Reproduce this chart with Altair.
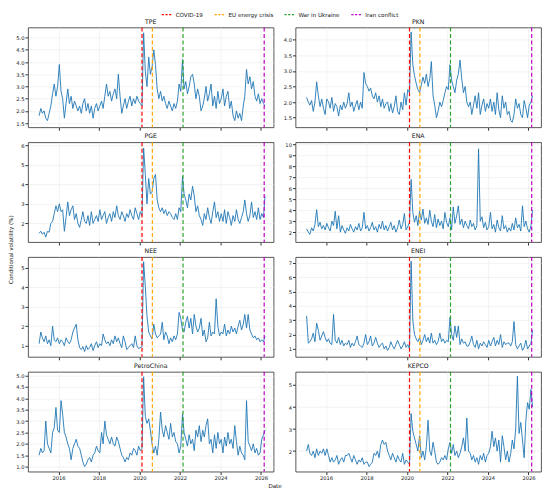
import altair as alt
import pandas as pd

# Monthly values (Jan 2015 .. Mar 2026)
TPE = [1.8, 2.1, 1.9, 2.0, 1.7, 1.6, 1.9, 2.2, 2.7, 3.1, 2.6, 3.0,
       3.9, 2.8, 2.5, 1.7, 2.3, 2.9, 2.3, 2.6, 2.1, 2.4, 2.2, 2.0,
       2.2, 1.9, 2.3, 2.5, 2.0, 2.3, 1.9, 2.2, 1.7, 2.1, 2.3, 2.0,
       2.2, 2.4, 2.1, 2.6, 3.1, 2.6, 2.8, 2.4, 2.7, 2.9, 2.5, 3.5,
       2.6, 1.9, 2.2, 2.5, 2.1, 2.4, 2.6, 2.2, 2.5, 2.3, 2.6, 2.4,
       2.3, 2.2, 5.2, 3.6, 3.0, 4.2, 3.5, 3.8, 4.5, 3.9, 2.9, 2.5,
       2.8, 2.4, 2.6, 2.3, 2.1, 2.4, 2.2, 2.0, 2.3, 2.1, 2.4, 3.1,
       2.8, 4.1, 2.9, 3.2, 2.7, 3.0, 3.4, 3.5, 3.1, 2.5, 2.9, 2.6,
       2.0, 2.2, 2.5, 3.0, 2.4, 2.7, 3.1, 2.2, 2.6, 2.1, 2.8, 2.3,
       2.5, 2.9, 2.2, 2.6, 2.8, 2.1, 2.4, 1.8, 1.6, 2.0, 1.7, 1.9,
       1.6, 2.2, 2.6, 3.7, 3.1, 3.4, 2.9, 3.2, 2.6, 2.4, 2.7, 2.3,
       2.5, 2.3, 2.2]
PKN = [2.15, 2.0, 1.9, 2.05, 1.7, 2.0, 2.65, 2.2, 1.85, 2.1, 1.8, 1.6,
       2.1, 2.0, 1.8, 2.15, 1.7, 1.95, 1.85, 1.55, 1.9, 1.75, 2.0, 1.8,
       1.95, 2.3, 1.85, 2.0, 1.7, 1.9, 2.05, 1.75, 2.0, 1.8, 2.95, 2.6,
       2.5, 2.35, 2.45, 2.2, 2.1, 2.3, 2.0, 2.2, 1.85, 2.1, 1.8, 1.95,
       2.0, 1.7, 1.95, 1.65, 1.85, 2.2, 1.7, 1.6, 2.0, 1.75, 2.3, 1.9,
       2.4, 2.3, 4.25, 3.2, 2.85, 2.6, 2.4, 2.3, 2.55, 2.8, 2.6, 2.9,
       2.5, 2.75, 3.3, 2.2, 1.9, 1.5, 1.7, 2.0, 1.85, 2.05, 2.3, 2.5,
       2.4, 3.2, 2.7, 2.5, 2.3, 2.7, 2.9, 3.35, 2.75, 2.3, 2.5, 2.0,
       1.85, 2.0, 1.6, 1.9, 2.2, 1.8, 2.3, 1.6, 1.9, 2.1, 1.7, 1.95,
       1.8, 2.1, 1.7, 2.0, 1.6, 2.3, 1.75, 1.5, 2.2, 1.8, 2.0, 1.6,
       1.7, 1.4, 1.35, 1.6, 2.1, 1.8, 1.95, 1.6, 1.5, 2.05, 1.8, 1.5,
       1.9, 2.0, 2.2]
PGE = [1.5, 1.6, 1.45, 1.55, 1.3, 1.6, 1.55, 2.0, 2.1, 2.5, 2.9, 2.6,
       3.0, 2.6, 2.7, 1.6, 2.3, 3.1, 2.4, 2.7, 2.9, 2.2, 2.5, 2.0,
       1.8, 2.2, 2.6, 2.1, 2.0, 2.4, 1.9, 2.6, 2.0, 2.2, 2.4, 2.1,
       2.7, 2.2, 2.4, 2.6, 2.0, 2.3, 2.5, 2.1, 2.6, 2.3, 2.9, 2.4,
       2.2, 2.6, 2.4, 2.1, 2.5, 2.3, 2.7, 2.4, 2.2, 2.8, 2.5, 2.2,
       2.6, 2.4, 5.85, 4.5, 3.0, 4.3, 3.5, 3.6, 4.3, 4.5, 3.2, 2.8,
       2.6, 2.8, 2.5, 2.7, 2.4, 2.6, 2.5, 2.3, 2.2, 2.5, 2.2, 2.8,
       2.6, 4.4, 3.5, 3.2, 2.8, 3.5, 3.2, 3.9, 3.4, 2.6, 2.9, 2.4,
       2.2, 1.9, 2.5, 2.2, 2.8, 2.3, 2.0, 2.6, 3.1, 2.3, 2.6, 2.1,
       2.5, 2.1, 2.7, 2.0, 2.6, 2.3, 1.9, 2.4, 2.1, 2.7, 2.2, 2.0,
       2.3, 2.6, 3.2, 2.5, 2.1, 2.4, 3.1, 2.3, 2.6, 2.2, 2.8, 2.2,
       2.5, 2.3, 3.4]
ENA = [2.3, 2.0, 1.8, 2.4, 2.1, 2.7, 4.05, 2.5, 2.9, 2.3, 2.6, 2.2,
       2.8, 2.4, 2.1, 3.0, 2.6, 3.9, 2.3, 3.5, 2.0, 2.6, 2.2, 1.9,
       2.4, 2.1, 2.7, 2.3, 2.0, 2.5, 2.2, 2.8, 2.1, 2.4, 3.8, 2.3,
       2.6, 2.1, 2.4, 2.9, 2.2, 2.5, 2.0, 2.7, 2.3, 3.0, 2.2, 2.6,
       2.1, 2.5, 2.9, 2.2, 2.6, 2.0, 2.4, 3.1, 2.3, 2.7, 3.7, 2.2,
       2.5, 2.9, 6.8, 3.8, 2.9, 3.5, 2.6, 3.9, 3.1, 4.1, 2.8, 3.3,
       2.7, 4.0, 3.0, 2.5, 3.6, 2.4, 3.2, 2.6, 3.0, 2.3, 3.8, 2.9,
       2.5, 3.3, 2.2, 4.3, 2.8, 3.5, 4.4, 2.7, 3.2, 2.4, 3.0, 2.6,
       2.3, 3.1, 2.5, 2.8, 2.2, 2.6, 9.6, 3.0, 3.4, 2.4, 2.9, 2.2,
       2.5, 3.8, 2.3, 2.7, 2.0, 3.1, 2.4, 2.1, 3.5, 2.3, 2.6, 2.0,
       2.4, 2.1, 2.8, 2.2, 3.3, 2.4, 2.7, 2.1, 4.4, 2.5, 3.0, 2.3,
       2.0, 2.6, 4.0]
NEE = [1.1, 1.7, 1.4, 1.2, 1.5, 1.1, 1.3, 1.0, 2.0, 1.3, 1.2, 1.4,
       1.1, 1.3, 1.2, 1.0, 1.4, 1.2, 1.1, 1.3, 1.7, 1.9, 2.1, 1.3,
       0.9, 0.8, 0.95, 0.7, 1.0, 0.8, 0.9, 1.1, 0.75, 1.0, 1.2, 0.9,
       1.1, 1.0, 1.6, 1.3, 1.1, 1.2, 1.0, 1.3, 1.1, 1.5, 1.2, 1.4,
       1.1, 0.9, 1.5, 1.2, 0.8, 0.9, 1.0, 1.1, 0.9, 1.5, 1.0, 0.85,
       0.9, 0.95, 5.3, 4.0, 2.5, 1.7, 1.5, 1.35, 2.1, 1.6, 1.4, 1.5,
       1.6, 2.2, 1.3, 1.7, 1.5, 1.1, 1.4, 1.2, 1.5, 1.3, 1.6, 2.7,
       2.4, 1.8, 1.7, 2.2, 2.5, 1.9, 2.4, 1.6, 2.6, 2.0, 1.7, 1.9,
       2.4, 1.5, 1.8, 1.2, 1.4, 2.2, 1.5, 1.7, 1.6, 3.4, 2.0, 1.5,
       1.7, 1.6, 2.1, 1.5, 1.8, 1.6, 2.0, 1.7, 1.9, 1.6, 2.0, 2.3,
       1.8, 2.1, 2.6, 1.9, 2.6, 1.8, 1.6, 1.4, 1.5, 1.3, 1.4, 1.2,
       1.3, 1.2, 1.5]
ENEI = [3.3, 1.4, 1.5, 1.7, 2.1, 1.5, 2.8, 2.3, 1.6, 1.9, 2.2, 1.8,
        1.5, 1.7, 1.4, 1.3, 3.4, 1.6, 1.4, 1.8, 1.3, 1.6, 1.2, 1.4,
        1.3, 1.6, 1.1, 1.4, 1.2, 1.5, 1.9, 1.3, 1.2, 1.1, 1.4, 2.0,
        1.3, 1.5, 1.9, 1.2, 1.4, 1.8, 1.4, 1.1, 1.3, 1.4, 1.0, 1.2,
        0.9, 1.1, 1.5, 1.2, 1.0, 1.3, 1.6, 1.3, 1.0, 1.2, 1.5, 1.1,
        1.3, 1.0, 7.1, 3.0, 2.0, 1.7, 1.5, 1.8, 1.3, 1.6, 2.0, 1.5,
        1.8, 1.4, 2.1, 1.4, 1.6, 1.3, 1.5, 2.1, 1.5, 1.7, 1.4, 1.6,
        1.5, 3.2, 2.0, 1.6, 2.6, 1.8, 2.6, 1.3, 1.7, 1.4, 1.5, 1.2,
        1.2, 1.5, 1.9, 1.3, 1.1, 1.6, 1.0, 1.4, 1.2, 1.5, 1.3, 1.1,
        1.6, 1.2, 1.5, 1.8, 1.2, 1.6, 1.3, 2.0, 1.1, 1.5, 1.3, 1.4,
        1.4, 1.2, 1.5, 2.9, 1.3, 1.0, 1.2, 1.4, 0.9, 1.1, 1.6, 1.0,
        1.2, 1.4, 2.3]
PETRO = [1.5, 1.8, 1.6, 1.7, 3.0, 2.0, 1.8, 1.6, 2.5, 2.7, 3.6, 2.6,
         2.5, 3.9, 3.3, 2.5, 2.3, 2.0, 1.8, 1.3, 1.8, 2.0, 2.2, 1.9,
         1.8, 1.5, 1.2, 1.0, 1.1, 1.3, 1.4, 1.2, 1.5, 1.6, 1.9, 1.7,
         1.6, 2.5, 2.0, 3.0, 2.4, 2.2, 2.0, 2.3, 2.0, 1.9, 2.3, 2.1,
         1.8, 1.5, 1.4, 1.2, 1.4, 1.3, 1.6, 1.5, 1.8, 1.7, 1.5, 1.9,
         1.7, 1.8, 4.95, 3.2, 2.9, 3.1, 2.6, 2.0, 1.6, 1.9, 1.5, 2.2,
         3.4, 2.6, 2.3, 2.8, 2.5, 2.2, 2.9, 2.3, 2.5, 2.1, 2.0, 1.6,
         1.9, 3.3, 2.5, 2.2, 1.9, 2.4, 2.0, 2.2, 1.7, 2.6, 2.3, 2.8,
         2.1, 2.6, 2.3, 2.8, 3.1, 2.0, 2.2, 1.6, 2.4, 1.8, 2.5, 2.0,
         2.2, 1.6, 2.3, 1.9, 2.5, 2.0, 2.2, 1.8, 2.8, 2.1, 1.5, 1.9,
         1.6, 1.5, 1.3, 3.9, 2.1, 1.9, 1.7, 2.0, 1.6, 1.8, 1.5, 1.6,
         2.2, 2.4, 2.6]
KEPCO = [2.0, 2.3, 1.9, 1.8, 2.0, 1.7, 2.1, 1.8, 2.0, 1.9, 2.1, 1.8,
         2.1, 1.8, 1.5, 1.7, 1.5, 1.6, 1.8, 1.4, 1.6, 1.7, 1.5, 1.8,
         1.8, 1.9, 1.7, 1.5, 1.8, 1.6, 1.4, 1.6, 1.5, 1.7, 1.4, 1.5,
         1.5, 1.3, 1.4, 1.5, 1.9, 1.8, 2.0, 1.7, 2.3, 2.5, 2.3, 2.4,
         2.0, 1.8, 1.6, 1.9, 1.7, 1.5, 1.8, 1.6, 1.5, 1.9, 1.4, 1.6,
         1.5, 1.4, 3.7, 2.9, 2.6, 2.3, 2.0, 2.7, 1.7, 2.0, 1.6, 2.2,
         3.4, 2.0, 1.8, 2.4, 2.0, 1.5, 1.4, 1.5, 1.7, 1.6, 1.8, 1.6,
         2.1, 2.4, 1.9, 2.3, 1.8, 2.0, 1.7, 1.9, 2.2, 2.6, 2.0, 3.5,
         2.0, 1.9, 1.6, 1.8, 1.5, 1.7, 1.4, 1.8, 1.6, 1.9, 1.5, 1.8,
         1.9, 2.2, 2.9, 2.2, 2.6, 2.0, 2.5, 1.5, 2.7, 2.2, 1.6, 2.0,
         1.5, 1.9, 2.5, 2.1, 3.0, 5.4, 2.8, 3.3, 2.5, 1.7, 3.4, 4.2,
         3.9, 4.8, 4.0]

SERIES = {"TPE": TPE, "PKN": PKN, "PGE": PGE, "ENA": ENA, "NEE": NEE,
          "ENEI": ENEI, "PetroChina": PETRO, "KEPCO": KEPCO}
ORDER = ["TPE", "PKN", "PGE", "ENA", "NEE", "ENEI", "PetroChina", "KEPCO"]

Y_DOMAINS = {"TPE": [1.33, 5.42], "PKN": [1.19, 4.40], "PGE": [1.05, 6.15],
             "ENA": [1.1, 10.2], "NEE": [0.43, 5.54], "ENEI": [0.45, 7.4],
             "PetroChina": [0.78, 5.17], "KEPCO": [1.07, 5.6]}
Y_TICKS = {"TPE": [1.5, 2.0, 2.5, 3.0, 3.5, 4.0, 4.5, 5.0],
           "PKN": [1.5, 2.0, 2.5, 3.0, 3.5, 4.0],
           "PGE": [2, 3, 4, 5, 6],
           "ENA": [2, 3, 4, 5, 6, 7, 8, 9, 10],
           "NEE": [1, 2, 3, 4, 5],
           "ENEI": [1, 2, 3, 4, 5, 6, 7],
           "PetroChina": [1.0, 1.5, 2.0, 2.5, 3.0, 3.5, 4.0, 4.5, 5.0],
           "KEPCO": [2, 3, 4, 5]}
Y_FMT = {"TPE": ".1f", "PKN": ".1f", "PetroChina": ".1f"}

EVENTS = ["COVID-19", "EU energy crisis", "War in Ukraine", "Iran conflict"]
EVENT_DATES = ["2020-02-15", "2020-08-20", "2022-02-24", "2026-02-28"]
EVENT_COLORS = ["#ff0000", "#ffa500", "#2ca02c", "#bf00bf"]
X_TICK_YEARS = [2016, 2018, 2020, 2022, 2024, 2026]

dates = [f"{2015 + i // 12}-{i % 12 + 1:02d}-15" for i in range(135)]
rows = []
for name in ORDER:
    for d, v in zip(dates, SERIES[name]):
        rows.append({"date": d, "value": v, "series": name})
df = pd.DataFrame(rows)
ev = pd.DataFrame({"event": EVENTS, "date": EVENT_DATES})

W, H = 246, 100
FONT = "DejaVu Sans"


def panel(name, bottom):
    xaxis = alt.Axis(values=[alt.DateTime(year=y, month=1, date=1) for y in X_TICK_YEARS],
                     format="%Y", title=None, labels=bottom, ticks=True,
                     grid=True, labelFlush=False)
    x = alt.X("date:T", scale=alt.Scale(domain=[alt.DateTime(year=2014, month=6, date=28),
                                               alt.DateTime(year=2026, month=8, date=15)]),
              axis=xaxis)
    line = alt.Chart(df).transform_filter(alt.datum.series == name).mark_line(
        color="#1f77b4", strokeWidth=0.9, clip=True
    ).encode(
        x=x,
        y=alt.Y("value:Q",
                scale=alt.Scale(domain=Y_DOMAINS[name], nice=False, zero=False),
                axis=alt.Axis(values=Y_TICKS[name], format=Y_FMT.get(name, "d"),
                              grid=True, title=None)),
    )
    rules = alt.Chart(ev).mark_rule(strokeDash=[4, 2.5], strokeWidth=1.2).encode(
        x="date:T",
        color=alt.Color("event:N",
                        scale=alt.Scale(domain=EVENTS, range=EVENT_COLORS),
                        sort=EVENTS,
                        legend=alt.Legend(title=None, orient="none", direction="horizontal",
                                          legendX=133, legendY=-19,
                                          symbolType="stroke", symbolDash=[2.2, 1.5],
                                          symbolStrokeWidth=1.2, symbolSize=100,
                                          labelFontSize=5.6, labelFont=FONT,
                                          labelColor="#111",
                                          columnPadding=8, labelOffset=3)),
    )
    return alt.layer(line, rules).properties(
        width=W, height=H,
        title=alt.TitleParams(name, fontSize=6.2, font=FONT, fontWeight="normal",
                              offset=2, color="#111"))


grid_rows = []
for r in range(4):
    left, right = ORDER[2 * r], ORDER[2 * r + 1]
    bottom = r == 3
    grid_rows.append(alt.hconcat(panel(left, bottom), panel(right, bottom), spacing=8))

grid = alt.vconcat(*grid_rows, spacing=1).properties(
    title=alt.TitleParams("Conditional volatility (%)", orient="left", anchor="middle",
                          fontSize=5.6, font=FONT, fontWeight="normal", offset=1,
                          color="#111"))

chart = alt.vconcat(grid, spacing=0).properties(
    title=alt.TitleParams("Date", orient="bottom", anchor="middle", fontSize=5.6,
                          font=FONT, fontWeight="normal", offset=3, color="#111"),
    padding=0,
).configure_axis(
    labelFontSize=5.2, labelFont=FONT, labelColor="#222", tickColor="#333",
    tickSize=3, domain=False, gridColor="#ebebeb", gridWidth=0.6, labelPadding=1,
).configure_axisX(
    minExtent=0
).configure_axisY(
    minExtent=12, maxExtent=12
).configure_view(
    stroke="#444", strokeWidth=0.9
).resolve_scale(color="shared")

chart.save("out.html", embed_options={"renderer": "svg", "actions": False})
